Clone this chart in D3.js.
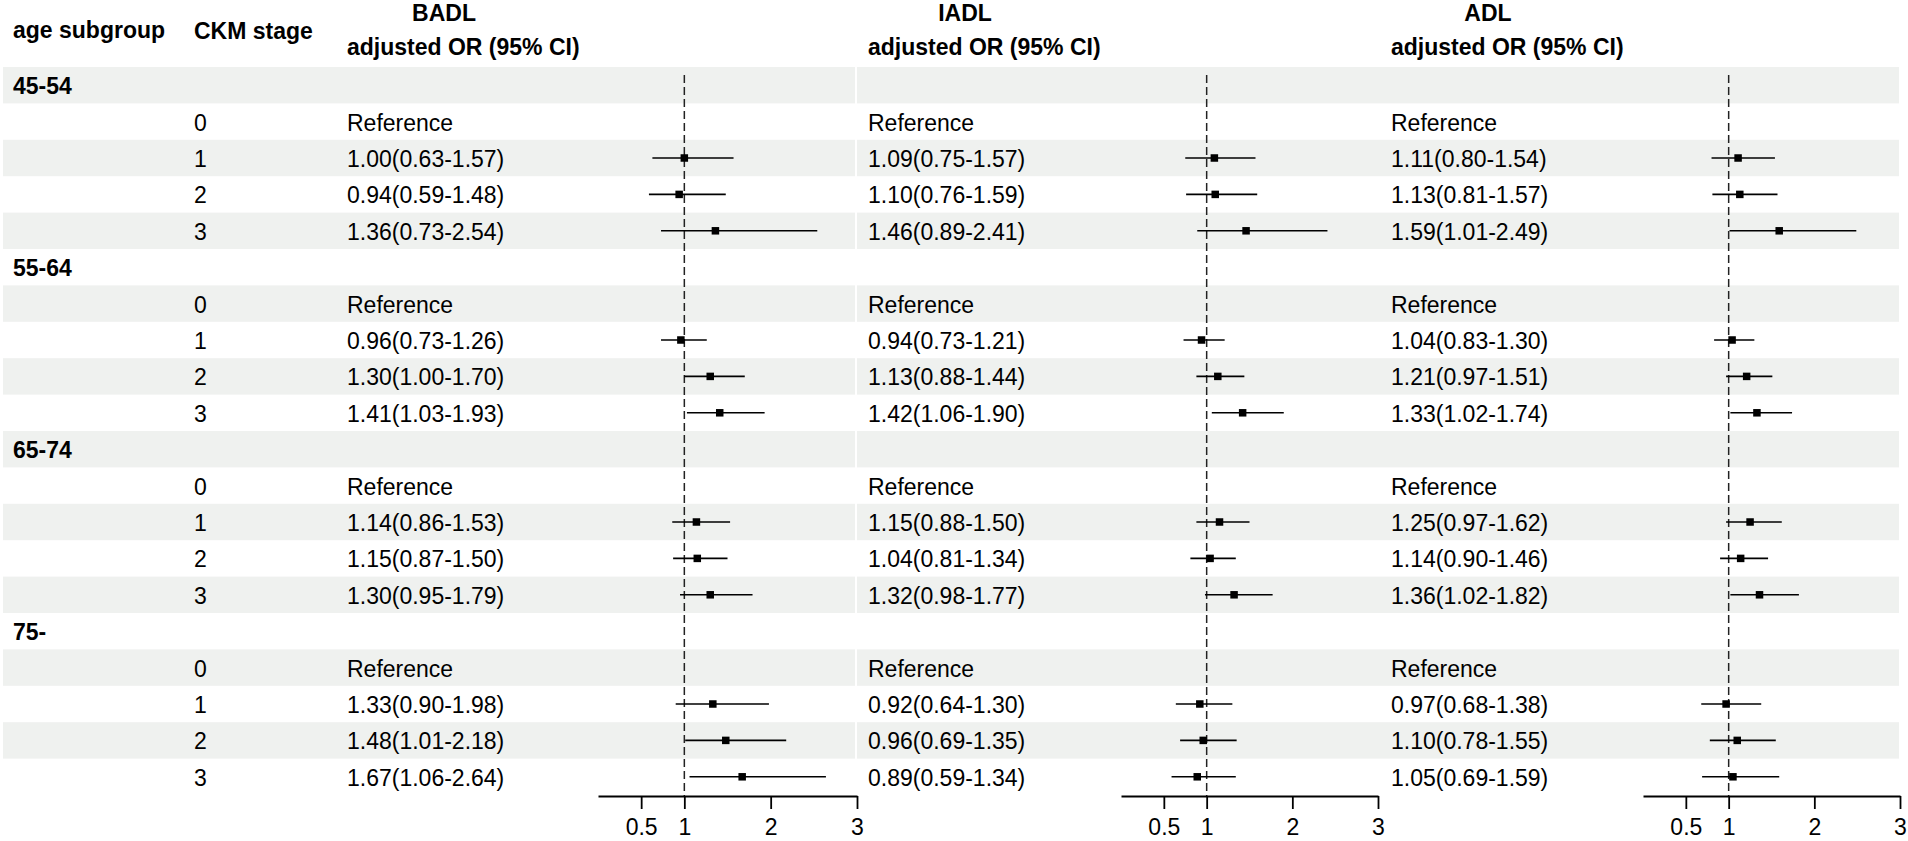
<!DOCTYPE html>
<html>
<head>
<meta charset="utf-8">
<script src="https://cdn.jsdelivr.net/npm/d3@7"></script>
<style>
  body { margin: 0; background: #fff; }
  svg text { font-family: "Liberation Sans", Arial, sans-serif; }
</style>
</head>
<body>
<div id="chart"></div>
<script>
// Данные: возрастные подгруппы, стадии CKM и OR (95% ДИ) для трёх исходов.
const ageGroups = ["45-54", "55-64", "65-74", "75-"];
const ckmStages = ["0", "1", "2", "3"];
const outcomeNames = ["BADL", "IADL", "ADL"];
const tickValues = [0.5, 1, 2, 3];

// по 4 значения на подгруппу, стадия 0 = референс (null)
const badlOR = [null, 1.00, 0.94, 1.36, null, 0.96, 1.30, 1.41, null, 1.14, 1.15, 1.30, null, 1.33, 1.48, 1.67];
const badlLow = [null, 0.63, 0.59, 0.73, null, 0.73, 1.00, 1.03, null, 0.86, 0.87, 0.95, null, 0.90, 1.01, 1.06];
const badlHigh = [null, 1.57, 1.48, 2.54, null, 1.26, 1.70, 1.93, null, 1.53, 1.50, 1.79, null, 1.98, 2.18, 2.64];

const iadlOR = [null, 1.09, 1.10, 1.46, null, 0.94, 1.13, 1.42, null, 1.15, 1.04, 1.32, null, 0.92, 0.96, 0.89];
const iadlLow = [null, 0.75, 0.76, 0.89, null, 0.73, 0.88, 1.06, null, 0.88, 0.81, 0.98, null, 0.64, 0.69, 0.59];
const iadlHigh = [null, 1.57, 1.59, 2.41, null, 1.21, 1.44, 1.90, null, 1.50, 1.34, 1.77, null, 1.30, 1.35, 1.34];

const adlOR = [null, 1.11, 1.13, 1.59, null, 1.04, 1.21, 1.33, null, 1.25, 1.14, 1.36, null, 0.97, 1.10, 1.05];
const adlLow = [null, 0.80, 0.81, 1.01, null, 0.83, 0.97, 1.02, null, 0.97, 0.90, 1.02, null, 0.68, 0.78, 0.69];
const adlHigh = [null, 1.54, 1.57, 2.49, null, 1.30, 1.51, 1.74, null, 1.62, 1.46, 1.82, null, 1.38, 1.55, 1.59];

const outcomes = [
  { name: outcomeNames[0], or: badlOR, lo: badlLow, hi: badlHigh },
  { name: outcomeNames[1], or: iadlOR, lo: iadlLow, hi: iadlHigh },
  { name: outcomeNames[2], or: adlOR, lo: adlLow, hi: adlHigh },
];

document.addEventListener("DOMContentLoaded", () => {
  const width = 1908;
  const height = 841;
  const fontSize = 23;
  const bandColor = "#eff1ef";

  // Позиции колонок (в пикселях)
  const ageX = 13;
  const stageX = 194;
  const textX = [347, 868, 1391];
  const plotX = [[598, 857], [1121, 1378], [1643, 1900]];
  const tableTop = 67;
  const tableBottom = 795;

  // Строим строки таблицы: заголовок подгруппы + 4 стадии.
  const rows = [];
  ageGroups.forEach((g, gi) => {
    rows.push({ type: "group", label: g });
    ckmStages.forEach((s, si) => {
      rows.push({ type: "stage", label: s, idx: gi * ckmStages.length + si });
    });
  });

  const svg = d3
    .select("#chart")
    .append("svg")
    .attr("width", width)
    .attr("height", height)
    .attr("viewBox", `0 0 ${width} ${height}`);

  svg.append("rect").attr("width", width).attr("height", height).attr("fill", "#fff");

  const yScale = d3
    .scaleBand()
    .domain(d3.range(rows.length))
    .range([tableTop, tableBottom]);

  const rowMid = (i) => yScale(i) + yScale.bandwidth() / 2;

  // Полосы фона (через строку), с тонким разрывом после первого графика.
  const bands = svg.append("g").attr("class", "bands");
  rows.forEach((r, i) => {
    if (i % 2 !== 0) return;
    bands
      .append("rect")
      .attr("x", 3)
      .attr("y", yScale(i))
      .attr("width", plotX[0][1] - 2 - 3)
      .attr("height", yScale.bandwidth())
      .attr("fill", bandColor);
    bands
      .append("rect")
      .attr("x", plotX[0][1])
      .attr("y", yScale(i))
      .attr("width", 1899 - plotX[0][1])
      .attr("height", yScale.bandwidth())
      .attr("fill", bandColor);
  });

  // Заголовки
  const header = svg.append("g").attr("class", "header")
    .attr("font-size", fontSize + "px")
    .attr("font-weight", "bold")
    .attr("fill", "#000");

  header.append("text").attr("x", ageX).attr("y", 38).text("age subgroup");
  header.append("text").attr("x", stageX).attr("y", 39).text("CKM stage");

  outcomes.forEach((o, k) => {
    header
      .append("text")
      .attr("x", textX[k] + 97)
      .attr("y", 21)
      .attr("text-anchor", "middle")
      .text(o.name);
    header
      .append("text")
      .attr("x", textX[k])
      .attr("y", 55)
      .text("adjusted OR (95% CI)");
  });

  // Тело таблицы
  const body = svg.append("g").attr("class", "body")
    .attr("font-size", fontSize + "px")
    .attr("fill", "#000");

  const fmt = d3.format(".2f");

  rows.forEach((r, i) => {
    const y = rowMid(i) + 9;
    if (r.type === "group") {
      body
        .append("text")
        .attr("x", ageX)
        .attr("y", y)
        .attr("font-weight", "bold")
        .text(r.label);
      return;
    }
    body.append("text").attr("x", stageX).attr("y", y).text(r.label);
    outcomes.forEach((o, k) => {
      const est = o.or[r.idx];
      const label =
        est === null
          ? "Reference"
          : `${fmt(est)}(${fmt(o.lo[r.idx])}-${fmt(o.hi[r.idx])})`;
      body.append("text").attr("x", textX[k]).attr("y", y).text(label);
    });
  });

  // Лесные графики
  outcomes.forEach((o, k) => {
    const xScale = d3.scaleLinear().domain([0, 3]).range(plotX[k]);
    const g = svg.append("g").attr("class", `forest-${o.name}`);

    // Пунктирная линия OR = 1
    g.append("line")
      .attr("x1", xScale(1))
      .attr("x2", xScale(1))
      .attr("y1", tableTop + 8)
      .attr("y2", tableBottom + 1)
      .attr("stroke", "#222")
      .attr("stroke-width", 1.5)
      .attr("stroke-dasharray", "8,4");

    rows.forEach((r, i) => {
      if (r.type !== "stage") return;
      const est = o.or[r.idx];
      if (est === null) return;
      const y = rowMid(i);
      g.append("line")
        .attr("x1", xScale(o.lo[r.idx]))
        .attr("x2", xScale(o.hi[r.idx]))
        .attr("y1", y)
        .attr("y2", y)
        .attr("stroke", "#000")
        .attr("stroke-width", 1.6);
      const s = 7.5;
      g.append("rect")
        .attr("x", xScale(est) - s / 2)
        .attr("y", y - s / 2)
        .attr("width", s)
        .attr("height", s)
        .attr("fill", "#000");
    });

    const axis = d3
      .axisBottom(xScale)
      .tickValues(tickValues)
      .tickFormat((d) => String(d))
      .tickSize(13)
      .tickSizeOuter(0)
      .tickPadding(10);

    const ax = svg
      .append("g")
      .attr("transform", `translate(0, ${tableBottom + 1})`)
      .call(axis);
    ax.select(".domain").attr("stroke", "#000").attr("stroke-width", 1.8);
    ax.selectAll(".tick line").attr("stroke", "#000").attr("stroke-width", 1.8);
    ax.selectAll(".tick text")
      .attr("font-size", fontSize + "px")
      .attr("font-family", "'Liberation Sans', Arial, sans-serif")
      .attr("fill", "#000");
  });
});
</script>
</body>
</html>
